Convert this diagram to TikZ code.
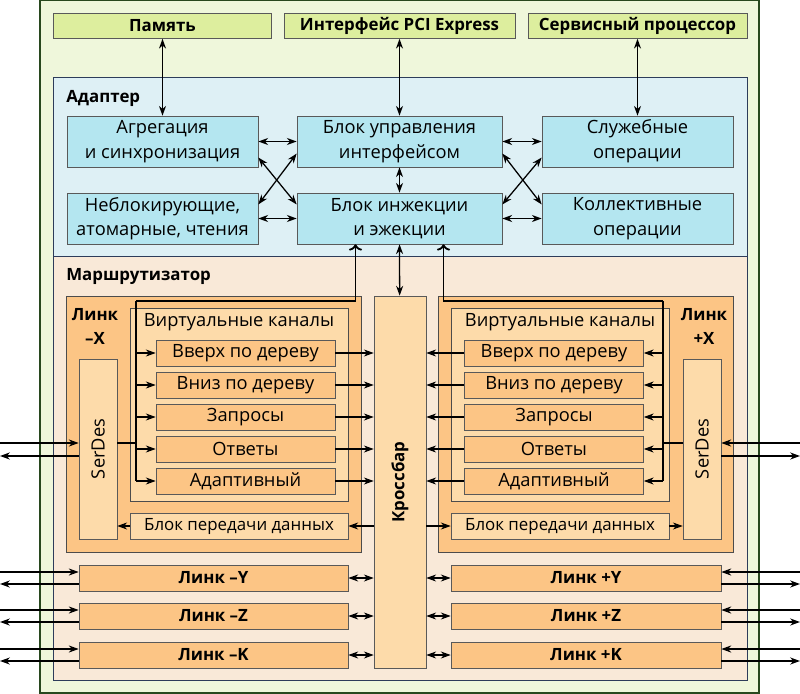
\documentclass[tikz,border=0pt]{standalone}
\usepackage{fontspec}
\setmainfont{Open Sans}
\usepackage{tikz}
\usetikzlibrary{arrows.meta,positioning,calc}
\definecolor{cOuter}{RGB}{239,247,219}
\definecolor{cOuterLine}{RGB}{40,72,30}
\definecolor{cTop}{RGB}{221,238,158}
\definecolor{cAdapt}{RGB}{222,240,245}
\definecolor{cAdLine}{RGB}{45,60,90}
\definecolor{cAdNode}{RGB}{180,230,240}
\definecolor{cRouter}{RGB}{249,233,216}
\definecolor{cLink}{RGB}{252,197,133}
\definecolor{cLight}{RGB}{253,219,170}
\tikzset{
  basebox/.style={rectangle,draw=black!65,align=center,inner sep=0pt,
                  font=\fontsize{13}{17.5}\selectfont},
  topnode/.style={basebox,fill=cTop,minimum height=0.625cm,
                  font=\fontsize{12}{17}\selectfont\bfseries},
  adnode/.style={basebox,fill=cAdNode,minimum width=4.775cm,minimum height=1.275cm},
  vcnode/.style={basebox,fill=cLink,minimum width=4.475cm,minimum height=0.65cm},
  datanode/.style={basebox,fill=cLight,minimum width=5.45cm,minimum height=0.65cm,
                   font=\fontsize{12}{17}\selectfont},
  serdesnode/.style={basebox,fill=cLight,minimum width=4.5cm,minimum height=0.95cm,rotate=90},
  linknode/.style={basebox,fill=cLink,minimum height=0.65cm,
                   font=\fontsize{12}{17}\selectfont\bfseries},
  titletxt/.style={inner sep=0pt,font=\fontsize{12}{17}\selectfont\bfseries},
  plaintxt/.style={inner sep=0pt,font=\fontsize{13}{17.5}\selectfont},
  frame/.style={draw=black!70,line width=0.6pt},
  arr/.style={-{Stealth[length=7pt,width=5pt]},line width=0.9pt},
  dblarr/.style={{Stealth[length=7pt,width=5pt]}-{Stealth[length=7pt,width=5pt]},line width=0.9pt},
  thkarr/.style={-{Stealth[length=7pt,width=5pt]},line width=1.3pt}
}
\begin{document}
\begin{tikzpicture}[x=0.025cm,y=-0.025cm]
  \useasboundingbox (0,0) rectangle (800,694);
  % Frames
  \draw[draw=cOuterLine,fill=cOuter,line width=0.8pt] (40,0.5) rectangle (759,693);
  \draw[draw=cAdLine,fill=cAdapt,line width=0.6pt] (53,77) rectangle (747,256);
  \draw[draw=cAdLine,fill=cRouter,line width=0.6pt] (53,256) rectangle (747,680);

  % Top row
  \node[topnode,minimum width=5.45cm]  (mem) at (162.5,26) {Память};
  \node[topnode,minimum width=5.775cm] (pci) at (399.5,26) {Интерфейс PCI Express};
  \node[topnode,minimum width=5.475cm] (svc) at (637.5,26) {Сервисный процессор};

  % Adapter
  \node[titletxt,anchor=west] (adtitle) at (66,98) {Адаптер};
  \node[adnode] (agg) at (162.5,141.5) {Агрегация\\и синхронизация};
  \node[adnode] (nbl) at (162.5,218.5) {Неблокирующие,\\атомарные, чтения};
  \node[adnode,minimum width=5.125cm] (ctl) at (399.5,141.5) {Блок управления\\интерфейсом};
  \node[adnode,minimum width=5.125cm] (inj) at (399.5,218.5) {Блок инжекции\\и эжекции};
  \node[adnode] (srv) at (637.5,141.5) {Служебные\\операции};
  \node[adnode] (col) at (637.5,218.5) {Коллективные\\операции};

  \draw[dblarr] (mem) -- (agg);
  \draw[dblarr] (pci) -- (ctl);
  \draw[dblarr] (svc) -- (srv);
  \draw[dblarr] (ctl) -- (inj);
  \draw[dblarr] (agg) -- (ctl);
  \draw[dblarr] (nbl) -- (inj);
  \draw[dblarr] (ctl) -- (srv);
  \draw[dblarr] (inj) -- (col);
  \draw[dblarr] ([yshift=-0.4cm]agg.east) -- ([yshift=0.35cm]inj.west);
  \draw[dblarr] ([yshift=0.35cm]nbl.east) -- ([yshift=-0.3cm]ctl.west);
  \draw[dblarr] ([yshift=-0.3cm]ctl.east) -- ([yshift=0.35cm]col.west);
  \draw[dblarr] ([yshift=0.35cm]inj.east) -- ([yshift=-0.4cm]srv.west);

  % Router
  \node[titletxt,anchor=west] (rttitle) at (66,277) {Маршрутизатор};
  \draw[frame,fill=cLink] (66,296) rectangle (361,552);
  \draw[frame,fill=cLink] (438,296) rectangle (733,552);
  \draw[frame,fill=cLight] (130,308) rectangle (348,501);
  \draw[frame,fill=cLight] (451,308) rectangle (669,501);
  \node[plaintxt] (vctL) at (239,322) {Виртуальные каналы};
  \node[plaintxt] (vctR) at (560,322) {Виртуальные каналы};
  \node[titletxt,align=center] (lnkXm) at (95,326.5) {Линк\\–X};
  \node[titletxt,align=center] (lnkXp) at (704,326.5) {Линк\\+X};
  \node[serdesnode] (serL) at (98,449) {SerDes};
  \node[serdesnode] (serR) at (702,449) {SerDes};
  \node[basebox,fill=cLight,minimum width=9.3cm,minimum height=1.3cm,rotate=90,
        font=\fontsize{12}{17}\selectfont\bfseries] (xbar) at (400,482) {Кроссбар};
  \node[datanode] (datL) at (239,526) {Блок передачи данных};
  \node[datanode] (datR) at (560,526) {Блок передачи данных};
  \foreach \i/\t in {1/Вверх по дереву,2/Вниз по дереву,3/Запросы,4/Ответы,5/Адаптивный}{
    \node[vcnode] (vcL\i) at (245.5,321+32*\i) {\t};
    \node[vcnode] (vcR\i) at (554,321+32*\i) {\t};
  }

  % Buses from injection block
  \coordinate (busLt) at (136,301);
  \coordinate (busLb) at (136,481);
  \coordinate (busRt) at (663,301);
  \coordinate (busRb) at (663,481);
  \draw[thkarr,<-] ([xshift=-1.1cm]inj.south) |- (busLt);
  \draw[thkarr,<-] ([xshift=1.1cm]inj.south) |- (busRt);
  \draw[line width=0.9pt] (busLt) -- (busLb);
  \draw[line width=0.9pt] (busRt) -- (busRb);
  \draw[dblarr] (inj) -- (xbar);
  \foreach \i in {1,...,5}{
    \draw[arr] (busLt |- vcL\i) -- (vcL\i.west);
    \draw[arr] (busRt |- vcR\i) -- (vcR\i.east);
    \draw[arr] (vcL\i) -- (xbar.north |- vcL\i);
    \draw[arr] (vcR\i) -- (xbar.south |- vcR\i);
  }
  \coordinate (jL) at (136,443);
  \coordinate (jR) at (663,443);
  \draw[line width=0.9pt] (serL.south |- jL) -- (jL);
  \draw[line width=0.9pt] (serR.north |- jR) -- (jR);
  \draw[arr] (xbar.north |- datL) -- (datL);
  \draw[arr] (datL) -- (serL.south |- datL);
  \draw[arr] (xbar.south |- datR) -- (datR);
  \draw[arr] (datR) -- (serR.north |- datR);

  % External SerDes links
  \coordinate (inL) at (0,443);
  \coordinate (outL) at (0,456);
  \coordinate (inR) at (800,443);
  \coordinate (outR) at (800,456);
  \draw[thkarr] (inL) -- (serL.north |- inL);
  \draw[thkarr] (serL.north |- outL) -- (outL);
  \draw[thkarr] (inR) -- (serR.south |- inR);
  \draw[thkarr] (serR.south |- outR) -- (outR);

  % Links Y, Z, K
  \foreach \n/\y in {Y/578,Z/616,K/655}{
    \node[linknode,minimum width=6.725cm] (lm\n) at (213.5,\y) {Линк –\n};
    \node[linknode,minimum width=6.75cm]  (lp\n) at (586,\y) {Линк +\n};
    \draw[dblarr] (lm\n) -- (xbar.north |- lm\n);
    \draw[dblarr] (lp\n) -- (xbar.south |- lp\n);
    \coordinate (il\n) at (0,\y-6);
    \coordinate (ol\n) at (0,\y+6);
    \coordinate (ir\n) at (800,\y-6);
    \coordinate (or\n) at (800,\y+6);
    \draw[thkarr] (il\n) -- (lm\n.west |- il\n);
    \draw[thkarr] (lm\n.west |- ol\n) -- (ol\n);
    \draw[thkarr] (ir\n) -- (lp\n.east |- ir\n);
    \draw[thkarr] (lp\n.east |- or\n) -- (or\n);
  }
\end{tikzpicture}
\end{document}
